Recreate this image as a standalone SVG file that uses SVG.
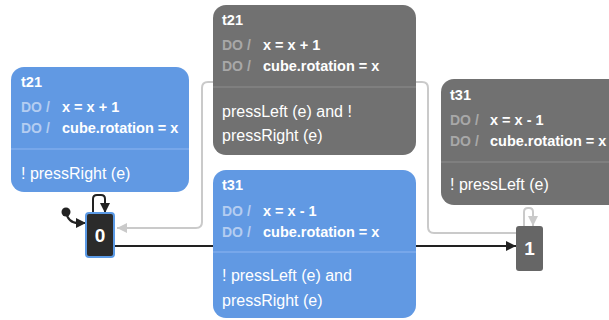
<svg xmlns="http://www.w3.org/2000/svg" width="609" height="320" viewBox="0 0 609 320">
<defs>
<style>
text{font-family:"Liberation Sans",Arial,sans-serif;}
.title{font-size:14.5px;font-weight:bold;fill:#fff;}
.val{font-size:14.5px;font-weight:bold;fill:#fff;}
.dob{font-size:14px;font-weight:bold;fill:#b4cdf1;}
.dog{font-size:14px;font-weight:bold;fill:#a8a8a8;}
.cond{font-size:16px;fill:#fff;}
.blue{fill:#6199e3;}
.grey{fill:#717171;}
.divb{stroke:#7fadec;stroke-width:1.5;}
.divg{stroke:#858585;stroke-width:1.5;}
.blk{fill:none;stroke:#222;stroke-width:2;}
.gry{fill:none;stroke:#cacaca;stroke-width:2;}
.nlabel{font-size:19px;font-weight:bold;fill:#fff;text-anchor:middle;}
</style>
<marker id="ab" markerUnits="userSpaceOnUse" markerWidth="10" markerHeight="10" refX="10" refY="5" orient="auto" viewBox="0 0 10 10"><path d="M0,0 L10,5 L0,10 z" fill="#222"/></marker>
<marker id="ag" markerUnits="userSpaceOnUse" markerWidth="10" markerHeight="10" refX="10" refY="5" orient="auto" viewBox="0 0 10 10"><path d="M0,0 L10,5 L0,10 z" fill="#cacaca"/></marker>
</defs>
<rect width="609" height="320" fill="#fff"/>
<g id="connectors">
<circle cx="66" cy="212" r="4.5" fill="#222"/>
<path class="blk" d="M66,212 Q68,223 78,223 L86,223" marker-end="url(#ab)"/>
<path class="blk" d="M93,213 L93,199 Q93,195 97,195 L101,195 Q105,195 105,199 L105,213" marker-end="url(#ab)"/>
<path class="blk" d="M114,246 L516,246" marker-end="url(#ab)"/>
<path class="gry" d="M516,233 L434,233 Q428,233 428,227 L428,88 Q428,82 422,82 L208,82 Q202,82 202,88 L202,222 Q202,228 196,228 L117,228" marker-end="url(#ag)"/>
<path class="gry" d="M524,226 L524,212 Q524,208 528,208 L529,208 Q533,208 533,212 L533,226" marker-end="url(#ag)"/>
</g>
<g id="label-t21-left">
<rect class="blue" x="11" y="67" width="178" height="125" rx="13"/>
<text class="title" x="21" y="87">t21</text>
<text class="dob" x="21" y="112">DO /</text><text class="val" x="62" y="112">x = x + 1</text>
<text class="dob" x="21" y="133">DO /</text><text class="val" x="62" y="133">cube.rotation = x</text>
<line class="divb" x1="11" y1="149" x2="189" y2="149"/>
<text class="cond" x="21" y="179">! pressRight (e)</text>
</g>
<g id="label-t21-top">
<rect class="grey" x="213" y="5" width="203" height="150" rx="13"/>
<text class="title" x="222" y="25">t21</text>
<text class="dog" x="222" y="50">DO /</text><text class="val" x="263" y="50">x = x + 1</text>
<text class="dog" x="222" y="71">DO /</text><text class="val" x="263" y="71">cube.rotation = x</text>
<line class="divg" x1="213" y1="87" x2="416" y2="87"/>
<text class="cond" x="222" y="117">pressLeft (e) and !</text>
<text class="cond" x="222" y="141">pressRight (e)</text>
</g>
<g id="label-t31-right">
<rect class="grey" x="441" y="79" width="185" height="126" rx="13"/>
<text class="title" x="450" y="100">t31</text>
<text class="dog" x="450" y="125">DO /</text><text class="val" x="490" y="125">x = x - 1</text>
<text class="dog" x="450" y="146">DO /</text><text class="val" x="490" y="146">cube.rotation = x</text>
<line class="divg" x1="441" y1="162" x2="609" y2="162"/>
<text class="cond" x="450" y="190">! pressLeft (e)</text>
</g>
<g id="label-t31-bottom">
<rect class="blue" x="213" y="170" width="203" height="148" rx="13"/>
<text class="title" x="222" y="190">t31</text>
<text class="dob" x="222" y="216">DO /</text><text class="val" x="263" y="216">x = x - 1</text>
<text class="dob" x="222" y="237">DO /</text><text class="val" x="263" y="237">cube.rotation = x</text>
<line class="divb" x1="213" y1="252" x2="416" y2="252"/>
<text class="cond" x="222" y="281">! pressLeft (e) and</text>
<text class="cond" x="222" y="306">pressRight (e)</text>
</g>
<g id="node-0">
<rect x="86" y="213" width="28" height="44" rx="3" fill="#2b2b2b" stroke="#5b9ae6" stroke-width="2"/>
<text class="nlabel" x="100" y="242">0</text>
</g>
<g id="node-1">
<rect x="516" y="226" width="27" height="45" rx="3" fill="#666"/>
<text class="nlabel" x="529.5" y="255">1</text>
</g>
</svg>
